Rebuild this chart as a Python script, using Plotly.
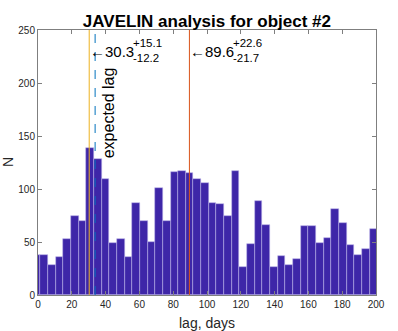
import plotly.graph_objects as go

# lag histogram (counts per bin), bins of equal width starting at lag_bin_start
lag_bin_start = -3.13
lag_bin_width = 4.53
counts = [38, 38, 28, 36, 53, 75, 70, 139, 128, 109, 49, 53, 36, 87, 70, 50,
          101, 70, 116, 117, 115, 109, 106, 87, 86, 75, 117, 26, 48, 89, 66,
          26, 37, 28, 34, 65, 65, 49, 54, 81, 68, 47, 38, 43, 62]

lag_median = 30.3
lag_err = (15.1, 12.2)
lag_peak = 89.6
peak_err = (22.6, 21.7)
expected_lag = 33.8

centers = [lag_bin_start + lag_bin_width * (i + 0.5) for i in range(len(counts))]

font = "Liberation Sans, Arial, Helvetica, sans-serif"

fig = go.Figure()
fig.add_trace(go.Bar(
    x=centers, y=counts, width=lag_bin_width,
    marker=dict(color="#3E26A8", line=dict(color="rgba(190,180,235,0.9)", width=0.6)),
    showlegend=False,
))

# vertical marker lines
fig.add_shape(type="line", x0=lag_median, x1=lag_median, y0=0, y1=250,
              line=dict(color="#EDB120", width=1))
fig.add_shape(type="line", x0=expected_lag, x1=expected_lag, y0=0, y1=250,
              line=dict(color="#0072BD", width=1, dash="dash"))
fig.add_shape(type="line", x0=lag_peak, x1=lag_peak, y0=0, y1=250,
              line=dict(color="#D95319", width=1))

# text labels with stacked errors
for xv, (up, lo) in [(lag_median, lag_err), (lag_peak, peak_err)]:
    fig.add_annotation(x=xv, y=230, text="\u2190%.1f" % xv, showarrow=False,
                       xanchor="left", yanchor="middle", xshift=-1,
                       font=dict(family=font, size=15, color="black"))
    fig.add_annotation(x=xv, y=231, text="+%.1f<br>-%.1f" % (up, lo), showarrow=False,
                       xanchor="left", yanchor="middle", xshift=42, align="left",
                       font=dict(family=font, size=11.5, color="black"))

fig.add_annotation(x=41.8, y=172, text="expected lag", textangle=-90, showarrow=False,
                   xanchor="center", yanchor="middle",
                   font=dict(family=font, size=16, color="black"))

# axis titles
fig.add_annotation(xref="paper", yref="paper", x=0.5, y=-0.105, text="lag, days",
                   showarrow=False, xanchor="center", yanchor="middle",
                   font=dict(family=font, size=14, color="#262626"))
fig.add_annotation(xref="paper", yref="paper", x=-0.09, y=0.5, text="N", textangle=-90,
                   showarrow=False, xanchor="center", yanchor="middle",
                   font=dict(family=font, size=14, color="#262626"))

axis_common = dict(showgrid=False, zeroline=False, showline=True, linecolor="#7f7f7f",
                   linewidth=1, mirror="ticks", ticks="inside", ticklen=4, automargin=False,
                   tickcolor="#7f7f7f", tickfont=dict(family=font, size=10, color="#262626"))

fig.update_xaxes(range=[0, 200], tickvals=list(range(0, 201, 20)), **axis_common)
fig.update_yaxes(range=[0, 250], tickvals=list(range(0, 251, 50)), **axis_common)

fig.update_layout(
    width=398, height=331,
    margin=dict(l=38, r=22, t=30, b=36),
    plot_bgcolor="white", paper_bgcolor="white",
    bargap=0,
    title=dict(text="<b>JAVELIN analysis for object #2</b>", x=0.52, xanchor="center",
               y=0.935, yanchor="middle", font=dict(family=font, size=17, color="black")),
)

fig.write_html("out.html", config={"displayModeBar": False},
               post_script="document.body.style.margin='0';")
